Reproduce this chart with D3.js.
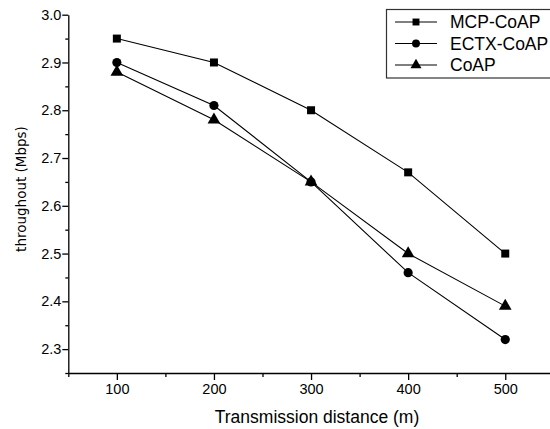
<!DOCTYPE html>
<html>
<head>
<meta charset="utf-8">
<script src="https://cdn.jsdelivr.net/npm/d3@7"></script>
<style>
	body { margin: 0; background: #fff; }
	svg { display: block; }
</style>
</head>
<body>
<div id="chart"></div>
<script>
(function () {
	'use strict';

	var distances = [100, 200, 300, 400, 500];
	var seriesNames = ["MCP-CoAP", "ECTX-CoAP", "CoAP"];
	var mcpCoap = [2.95, 2.90, 2.80, 2.67, 2.50];
	var ectxCoap = [2.90, 2.81, 2.65, 2.46, 2.32];
	var coap = [2.88, 2.78, 2.65, 2.50, 2.39];
	var yTicks = [2.3, 2.4, 2.5, 2.6, 2.7, 2.8, 2.9, 3.0];
	var xTicks = [100, 200, 300, 400, 500];

	var width = 550, height = 429;
	var svg = d3.select("#chart").append("svg")
		.attr("width", width)
		.attr("height", height);

	var x = d3.scaleLinear().domain([50, 550]).range([68.3, 553.8]);
	var y = d3.scaleLinear().domain([2.25, 3.0]).range([373, 14.7]);

	var symbols = [d3.symbolSquare, d3.symbolCircle, d3.symbolTriangle];
	var sizes = [64, 66, 70];
	var allValues = [mcpCoap, ectxCoap, coap];

	// axes
	svg.append("g")
		.attr("transform", "translate(0," + y(2.25) + ")")
		.call(d3.axisBottom(x).tickValues(xTicks).tickSize(7).tickPadding(4).tickSizeOuter(0));
	svg.append("g")
		.attr("transform", "translate(0," + y(2.25) + ")")
		.call(d3.axisBottom(x).tickValues([50, 150, 250, 350, 450]).tickSize(4).tickFormat("").tickSizeOuter(0))
		.select(".domain").remove();

	svg.append("g")
		.attr("transform", "translate(" + x(50) + ",0)")
		.call(d3.axisLeft(y).tickValues(yTicks).tickSize(6).tickPadding(1).tickFormat(d3.format(".1f")).tickSizeOuter(0));
	svg.append("g")
		.attr("transform", "translate(" + x(50) + ",0)")
		.call(d3.axisLeft(y).tickValues([2.25, 2.35, 2.45, 2.55, 2.65, 2.75, 2.85, 2.95]).tickSize(3).tickFormat("").tickSizeOuter(0))
		.select(".domain").remove();

	svg.selectAll(".domain, .tick line")
		.attr("stroke", "#000")
		.attr("stroke-width", 1.3);
	svg.selectAll(".tick text")
		.attr("fill", "#000")
		.style("font-family", "Liberation Sans, Arial, sans-serif")
		.style("font-size", "14.5px");

	// titles
	svg.append("text")
		.attr("x", 317)
		.attr("y", 423)
		.attr("text-anchor", "middle")
		.style("font-family", "Liberation Sans, Arial, sans-serif")
		.style("font-size", "17.5px")
		.text("Transmission distance (m)");

	svg.append("text")
		.attr("transform", "translate(26,189) rotate(-90)")
		.attr("text-anchor", "middle")
		.style("font-family", "DejaVu Sans, sans-serif")
		.style("font-size", "13.5px")
		.text("throughout (Mbps)");

	// lines and markers
	var line = d3.line()
		.x(function(d, i){ return x(distances[i]); })
		.y(function(d){ return y(d); });

	allValues.forEach(function(vals, s) {
		svg.append("path")
			.datum(vals)
			.attr("fill", "none")
			.attr("stroke", "#000")
			.attr("stroke-width", 1.1)
			.attr("d", line);

		svg.selectAll(".m" + s)
			.data(vals)
			.enter()
			.append("path")
			.attr("class", "m" + s)
			.attr("d", d3.symbol().type(symbols[s]).size(sizes[s]))
			.attr("transform", function(d, i){
				return "translate(" + x(distances[i]) + "," + y(d) + ")";
			})
			.attr("fill", "#000");
	});

	// legend
	var legend = svg.append("g");
	legend.append("rect")
		.attr("x", 386.5)
		.attr("y", 9.5)
		.attr("width", 180)
		.attr("height", 68.5)
		.attr("fill", "#fff")
		.attr("stroke", "#333")
		.attr("stroke-width", 1.2);

	seriesNames.forEach(function(name, s) {
		var ly = 22 + s * 21.5;
		legend.append("line")
			.attr("x1", 395).attr("x2", 437)
			.attr("y1", ly).attr("y2", ly)
			.attr("stroke", "#000")
			.attr("stroke-width", 1.1);
		legend.append("path")
			.attr("d", d3.symbol().type(symbols[s]).size(sizes[s] * 0.75))
			.attr("transform", "translate(416," + ly + ")")
			.attr("fill", "#000");
		legend.append("text")
			.attr("x", 450)
			.attr("y", ly + 6)
			.style("font-family", "Liberation Sans, Arial, sans-serif")
			.style("font-size", "17.5px")
			.text(name);
	});
}());
</script>
</body>
</html>
